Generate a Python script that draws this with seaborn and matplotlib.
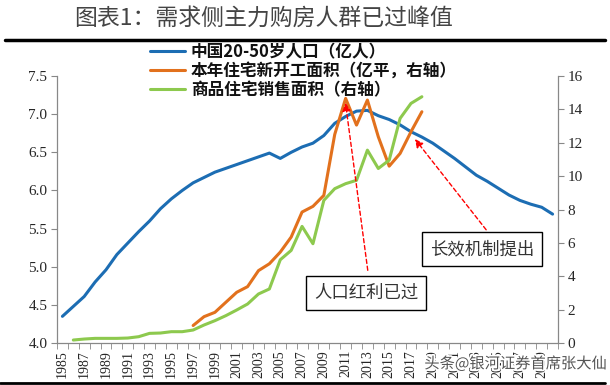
import numpy as np
import pandas as pd
import seaborn as sns
import matplotlib.pyplot as plt
import matplotlib.patheffects as pe

years = list(range(1985, 2031))

# China population aged 20-50 (100 million), left axis
population = [4.35, 4.48, 4.61, 4.80, 4.96, 5.16, 5.31, 5.46, 5.60, 5.76,
              5.89, 6.00, 6.10, 6.17, 6.24, 6.29, 6.34, 6.39, 6.44, 6.49,
              6.42, 6.50, 6.57, 6.62, 6.72, 6.88, 6.97, 7.04, 7.05, 6.98,
              6.93, 6.86, 6.77, 6.70, 6.62, 6.52, 6.42, 6.31, 6.20, 6.12,
              6.03, 5.94, 5.87, 5.82, 5.78, 5.69]

# residential new starts (100 million m2), right axis, 1997-2018
start_years = list(range(1997, 2019))
new_starts = [1.05, 1.58, 1.84, 2.44, 3.04, 3.38, 4.34, 4.75, 5.45, 6.35,
              7.85, 8.19, 8.85, 12.5, 14.66, 13.06, 14.56, 12.36, 10.6, 11.36,
              12.66, 13.86]

# residential sales area (100 million m2), right axis, 1986-2018
sales_years = list(range(1986, 2019))
sales_area = [0.18, 0.24, 0.28, 0.28, 0.28, 0.30, 0.38, 0.58, 0.60, 0.68,
              0.68, 0.78, 1.08, 1.34, 1.64, 1.98, 2.34, 2.94, 3.24, 4.99,
              5.55, 6.99, 5.95, 8.55, 9.25, 9.55, 9.75, 11.56, 10.46, 10.96,
              13.46, 14.36, 14.76]

labels = ["中国20-50岁人口（亿人）", "本年住宅新开工面积（亿平，右轴）", "商品住宅销售面积（右轴）"]
colors = ["#1c6db3", "#e2711d", "#8dc94e"]

sns.set_style("white")
plt.rcParams['font.family'] = ['Noto Sans CJK SC', 'DejaVu Sans']

fig = plt.figure(figsize=(6.1, 3.85), dpi=100)
ax = fig.add_axes([0.0934, 0.109, 0.8214, 0.6935])
ax2 = ax.twinx()

pop_df = pd.DataFrame({'year': years, 'value': population})
start_df = pd.DataFrame({'year': start_years, 'value': new_starts})
sales_df = pd.DataFrame({'year': sales_years, 'value': sales_area})

sns.lineplot(data=pop_df, x='year', y='value', ax=ax, color=colors[0], lw=2.2, label=labels[0], legend=False)
sns.lineplot(data=start_df, x='year', y='value', ax=ax2, color=colors[1], lw=2.2, label=labels[1], legend=False)
sns.lineplot(data=sales_df, x='year', y='value', ax=ax2, color=colors[2], lw=2.2, label=labels[2], legend=False)

ax.set_xlim(1984.5, 2030.5)
ax.set_ylim(4.0, 7.5)
ax2.set_ylim(0, 16)
ax.set_yticks(np.arange(4.0, 7.51, 0.5))
ax.set_yticklabels([f"{v:.1f}" for v in np.arange(4.0, 7.51, 0.5)])
ax2.set_yticks(range(0, 17, 2))
ax.set_xticks(range(1985, 2030, 2))
ax.set_xticklabels([str(y) for y in range(1985, 2030, 2)], rotation=90)
ax.set_xticks(np.arange(1984.5, 2031, 1), minor=True)
ax.set_xlabel("")
ax.set_ylabel("")
ax2.set_ylabel("")

serif = 'Liberation Serif'
for t in ax.get_xticklabels():
    t.set_family(serif)
    t.set_fontsize(10)
for t in ax.get_yticklabels() + ax2.get_yticklabels():
    t.set_family(serif)
    t.set_fontsize(11)

ax.tick_params(axis='x', which='major', length=0, pad=5)
ax.tick_params(axis='x', which='minor', length=4, color='#888', direction='out', bottom=True)
ax.tick_params(axis='y', length=4, color='#888', direction='out', left=True, pad=3)
ax2.tick_params(axis='y', length=4, color='#888', direction='out', right=True, pad=3)

for a in (ax, ax2):
    a.spines['top'].set_visible(False)
    for s in ('left', 'right', 'bottom'):
        a.spines[s].set_color('#888')
        a.spines[s].set_linewidth(0.9)
ax.spines['right'].set_visible(False)
ax2.spines['left'].set_visible(False)
ax2.spines['bottom'].set_visible(False)

# legend
handles = ax.get_lines()[:1] + ax2.get_lines()[:2]
leg = fig.legend(handles, labels, loc='upper left', bbox_to_anchor=(0.235, 0.905),
                 frameon=False, fontsize=12, handlelength=2.1, labelspacing=0.05,
                 handletextpad=0.35, borderaxespad=0)
for t in leg.get_texts():
    t.set_fontweight('bold')
    t.set_color('#111')

# annotations
box = dict(boxstyle='square,pad=0.45', fc='white', ec='black', lw=1)
arrow = dict(arrowstyle='-|>', color='red', lw=1, ls=(0, (3, 2)), mutation_scale=12)
ax2.annotate("", xy=(0.575, 0.91), xytext=(0.621, 0.262), xycoords='axes fraction',
             textcoords='axes fraction', arrowprops=arrow)
ax2.annotate("", xy=(0.711, 0.772), xytext=(0.860, 0.416), xycoords='axes fraction',
             textcoords='axes fraction', arrowprops=arrow)
ax2.text(0.617, 0.187, "人口红利已过", transform=ax2.transAxes, ha='center', va='center',
         fontsize=12.5, color='#333', bbox=box)
ax2.text(0.849, 0.352, "长效机制提出", transform=ax2.transAxes, ha='center', va='center',
         fontsize=12.5, color='#333', bbox=box)

# title and rules
fig.text(0.432, 0.953, "图表1：需求侧主力购房人群已过峰值", ha='center', va='center',
         fontsize=16.5, color='#444')
fig.add_artist(plt.Line2D([0.008, 0.992], [0.896, 0.896], color='black', lw=2.5))
fig.add_artist(plt.Line2D([0.0, 0.992], [0.006, 0.006], color='black', lw=2))

# watermark
fig.text(0.845, 0.055, "头条@银河证券首席张大仙", ha='center', va='center', fontsize=11,
         color='#555', path_effects=[pe.withStroke(linewidth=2.5, foreground='white')])

fig.savefig('out.png', dpi=100, facecolor='white')
